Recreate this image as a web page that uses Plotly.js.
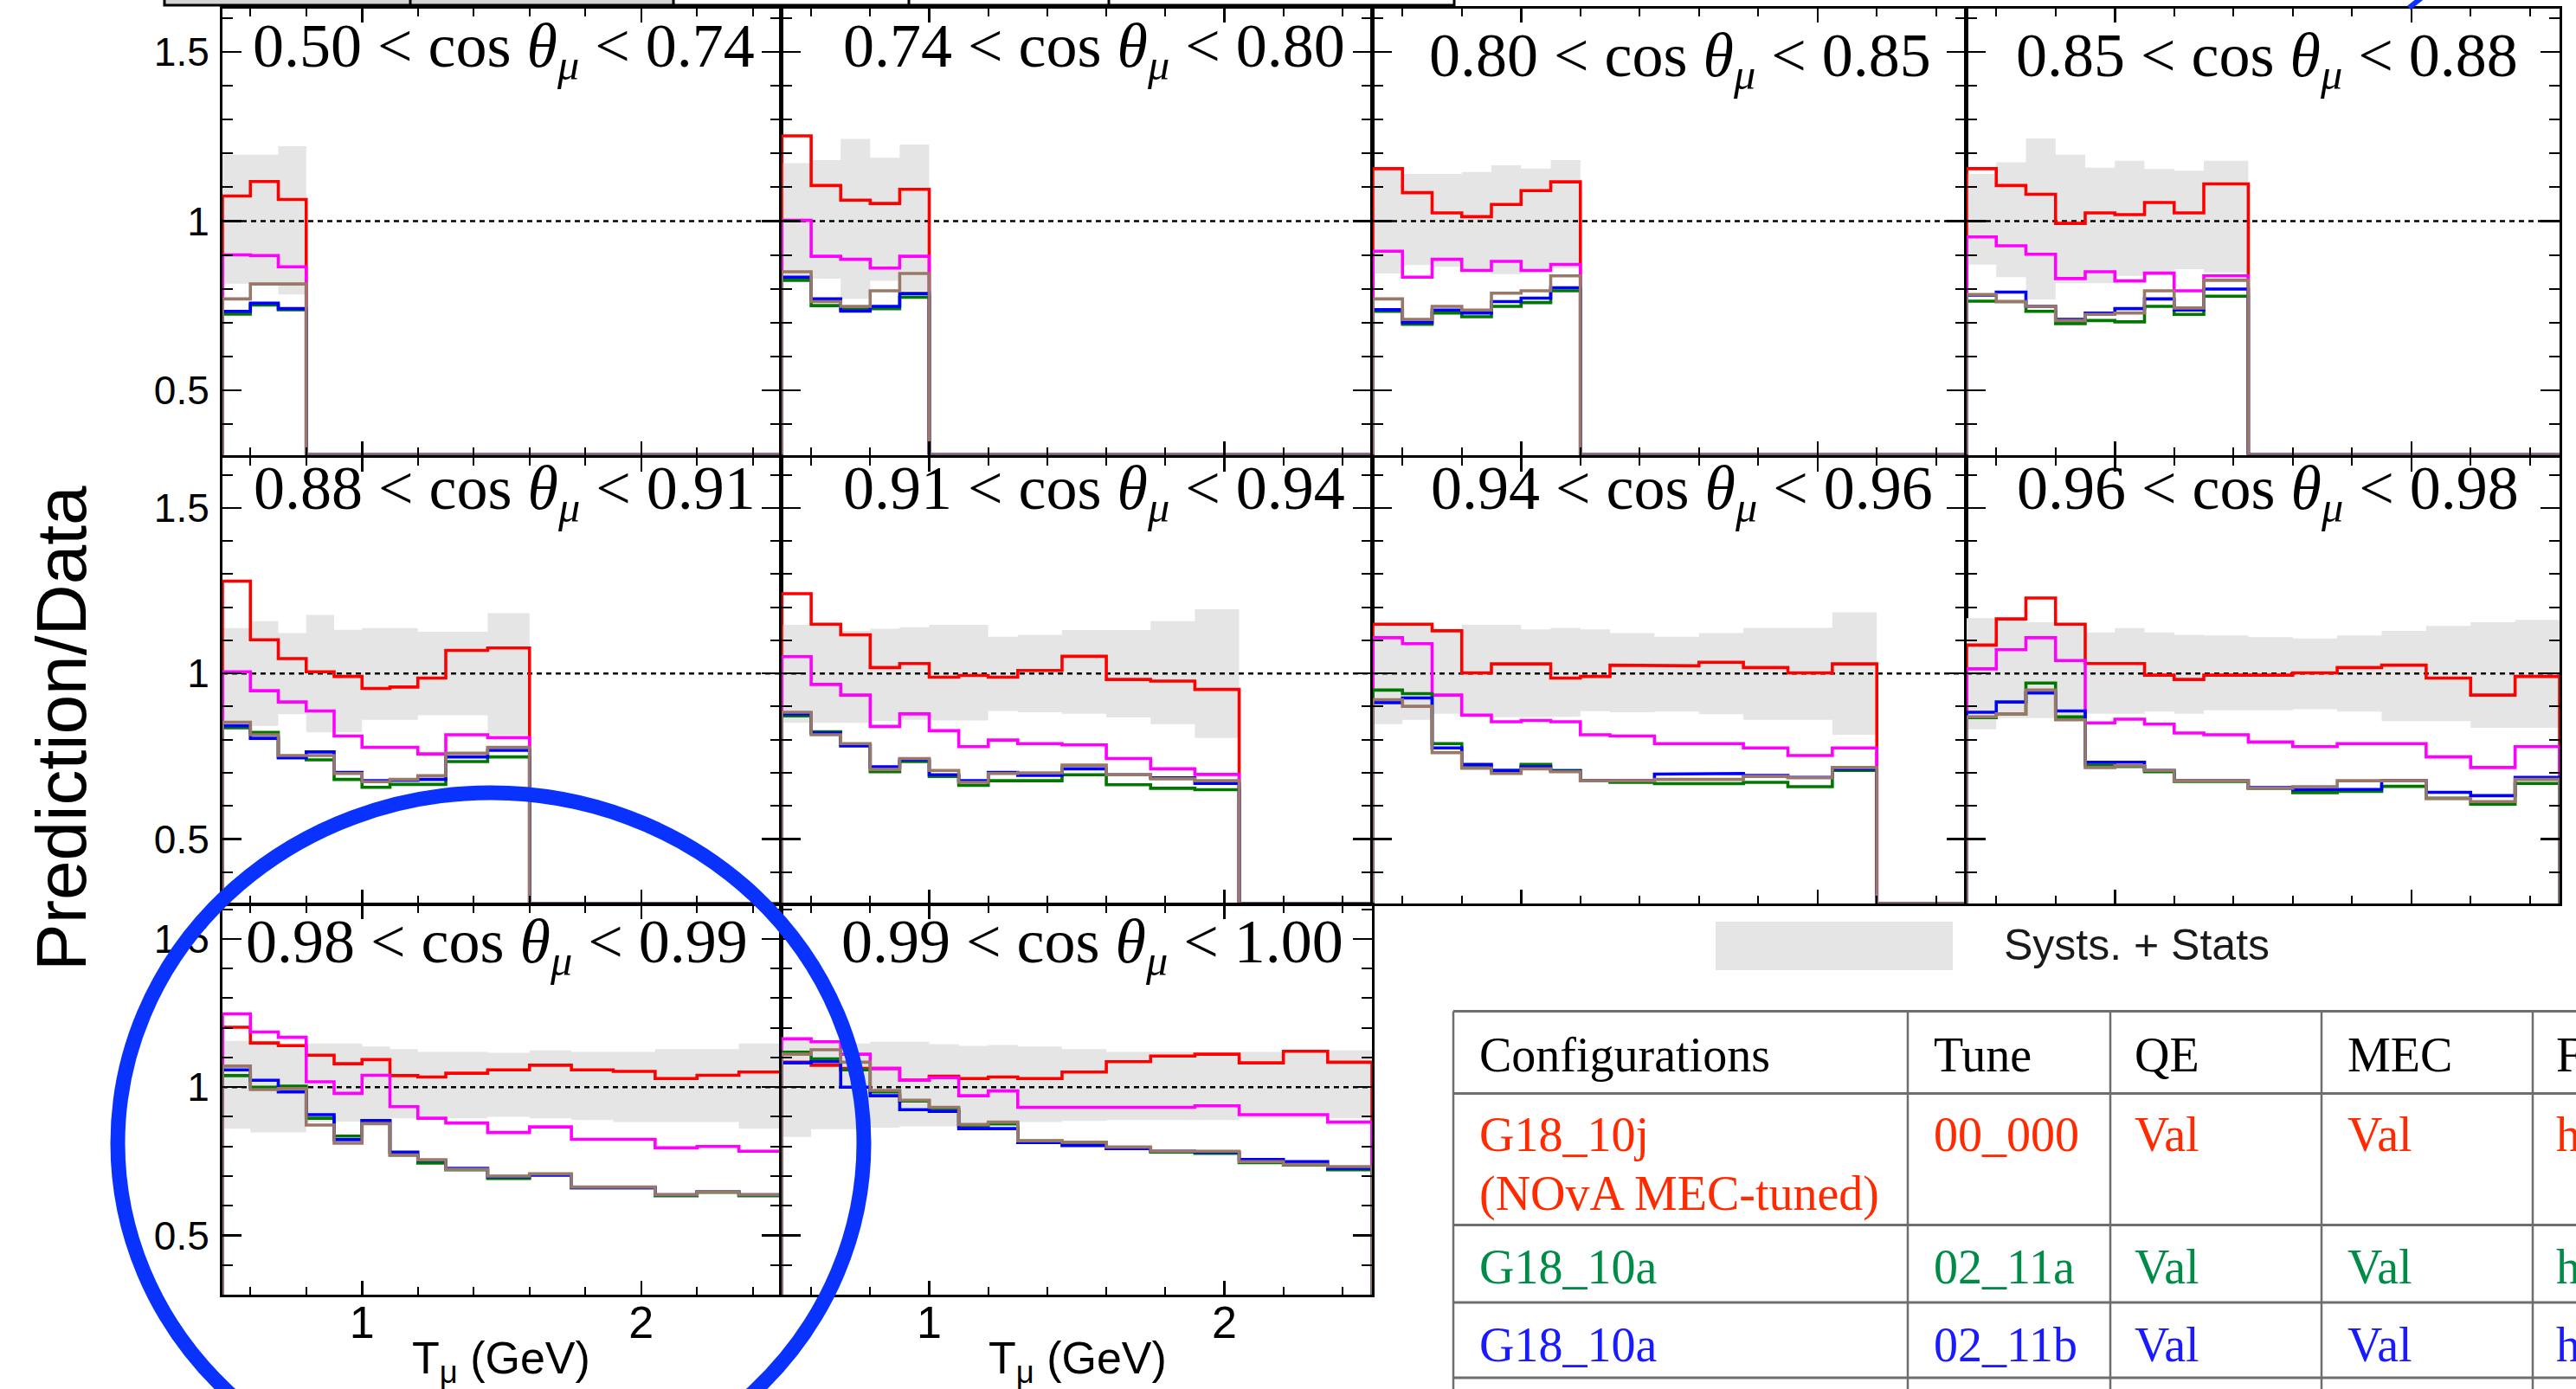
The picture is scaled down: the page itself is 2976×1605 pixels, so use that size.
<!DOCTYPE html>
<html><head><meta charset="utf-8">
<script src="https://cdn.plot.ly/plotly-3.0.1.min.js"></script>
<style>html,body{margin:0;padding:0;background:#fff;} #chart{width:2976px;height:1605px;}</style>
</head><body><div id="chart"></div>
<script>
// ---------------- DATA ----------------
const binEdges = [0.5,0.6,0.7,0.8,0.9,1.0,1.1,1.2,1.3,1.45,1.6,1.75,1.9,2.05,2.2,2.35,2.5];
const cosLow  = ["0.50","0.74","0.80","0.85","0.88","0.91","0.94","0.96","0.98","0.99"];
const cosHigh = ["0.74","0.80","0.85","0.88","0.91","0.94","0.96","0.98","0.99","1.00"];
const seriesNames = ["G18_10j (NOvA MEC-tuned)", "Configuration 4", "G18_10a 02_11a", "G18_10a 02_11b", "Configuration 5"];

const ratioRed = [
  [1.074,1.117,1.064],
  [1.252,1.105,1.062,1.052,1.094],
  [1.155,1.084,1.024,1.013,1.049,1.090,1.116],
  [1.155,1.105,1.079,0.993,1.024,1.019,1.055,1.024,1.110],
  [1.279,1.102,1.045,1.005,0.991,0.955,0.959,0.986,1.070,1.077],
  [1.241,1.149,1.117,1.018,1.030,0.989,0.994,0.989,1.009,1.052,0.982,0.977,0.952],
  [1.149,1.149,1.129,1.002,1.029,1.029,0.986,0.991,1.025,1.023,1.034,1.018,1.002,1.029],
  [1.086,1.165,1.228,1.149,1.030,1.030,0.995,0.982,0.995,0.995,1.002,1.018,1.025,0.986,0.935,0.991],
  [1.202,1.149,1.140,1.108,1.079,1.093,1.039,1.034,1.047,1.058,1.074,1.058,1.053,1.029,1.040,1.051],
  [1.084,1.074,1.063,1.063,1.024,1.037,1.029,1.034,1.029,1.051,1.086,1.105,1.111,1.082,1.121,1.084]
];
const ratioMagenta = [
  [0.900,0.898,0.865],
  [1.002,0.896,0.887,0.861,0.896],
  [0.911,0.834,0.887,0.854,0.881,0.854,0.872],
  [0.953,0.927,0.902,0.830,0.850,0.823,0.846,0.794,0.838],
  [1.005,0.948,0.914,0.887,0.811,0.777,0.777,0.757,0.815,0.806],
  [1.051,0.967,0.935,0.840,0.878,0.827,0.779,0.799,0.788,0.784,0.743,0.712,0.695],
  [1.108,1.090,0.935,0.874,0.854,0.858,0.854,0.815,0.811,0.788,0.788,0.775,0.752,0.775],
  [1.014,1.072,1.108,1.039,0.851,0.862,0.847,0.820,0.815,0.793,0.779,0.788,0.788,0.748,0.716,0.779],
  [1.247,1.186,1.168,1.018,0.979,1.040,0.934,0.895,0.879,0.847,0.866,0.824,0.824,0.795,0.800,0.784],
  [1.163,1.153,1.111,1.063,1.023,1.032,0.971,0.987,0.932,0.932,0.932,0.932,0.937,0.907,0.907,0.882]
];
const ratioGreen = [
  [0.725,0.752,0.738],
  [0.825,0.750,0.740,0.741,0.775],
  [0.733,0.695,0.728,0.717,0.748,0.759,0.794],
  [0.763,0.762,0.733,0.697,0.706,0.702,0.748,0.724,0.778],
  [0.836,0.822,0.748,0.739,0.680,0.656,0.665,0.665,0.734,0.748],
  [0.872,0.824,0.784,0.703,0.734,0.689,0.662,0.676,0.676,0.694,0.664,0.653,0.649],
  [0.950,0.939,0.788,0.718,0.707,0.725,0.707,0.676,0.671,0.667,0.667,0.671,0.658,0.707],
  [0.867,0.878,0.971,0.869,0.723,0.719,0.703,0.674,0.674,0.653,0.640,0.644,0.659,0.623,0.605,0.668],
  [1.039,1.000,1.003,0.895,0.835,0.887,0.771,0.744,0.721,0.692,0.707,0.661,0.661,0.634,0.645,0.634],
  [1.118,1.095,1.058,0.984,0.953,0.926,0.868,0.876,0.819,0.813,0.793,0.781,0.777,0.745,0.737,0.721]
];
const ratioBlue = [
  [0.733,0.757,0.741],
  [0.834,0.770,0.734,0.748,0.786],
  [0.738,0.700,0.737,0.728,0.762,0.772,0.803],
  [0.781,0.790,0.748,0.709,0.728,0.741,0.770,0.737,0.799],
  [0.842,0.804,0.745,0.763,0.701,0.676,0.677,0.680,0.748,0.768],
  [0.878,0.820,0.781,0.718,0.739,0.694,0.676,0.701,0.692,0.712,0.694,0.685,0.668],
  [0.912,0.926,0.775,0.725,0.707,0.718,0.705,0.676,0.676,0.696,0.698,0.692,0.686,0.712],
  [0.883,0.914,0.941,0.887,0.732,0.732,0.707,0.676,0.676,0.655,0.649,0.650,0.676,0.641,0.631,0.686],
  [1.058,1.023,0.984,0.907,0.823,0.887,0.781,0.753,0.726,0.698,0.703,0.661,0.661,0.637,0.647,0.637],
  [1.082,1.086,1.000,0.971,0.924,0.918,0.860,0.860,0.813,0.803,0.793,0.784,0.781,0.756,0.749,0.726]
];
const ratioBrown = [
  [0.770,0.814,0.814],
  [0.850,0.762,0.748,0.794,0.845],
  [0.770,0.709,0.748,0.737,0.787,0.794,0.838],
  [0.783,0.762,0.748,0.706,0.724,0.728,0.794,0.743,0.825],
  [0.853,0.815,0.752,0.752,0.698,0.673,0.680,0.691,0.759,0.777],
  [0.883,0.815,0.788,0.710,0.743,0.707,0.671,0.698,0.700,0.723,0.694,0.682,0.676],
  [0.921,0.901,0.761,0.714,0.698,0.712,0.703,0.676,0.676,0.680,0.680,0.689,0.685,0.716],
  [0.869,0.878,0.950,0.860,0.716,0.721,0.707,0.676,0.676,0.653,0.658,0.676,0.676,0.622,0.613,0.680],
  [1.071,0.992,0.995,0.872,0.811,0.877,0.771,0.755,0.723,0.700,0.707,0.663,0.663,0.637,0.647,0.637],
  [1.111,1.126,1.084,0.989,0.956,0.932,0.874,0.882,0.819,0.814,0.798,0.784,0.784,0.749,0.739,0.732]
];
const bandLow = [
  [0.815,0.815,0.783],
  [0.830,0.830,0.770,0.823,0.794],
  [0.845,0.870,0.865,0.856,0.843,0.847,0.860],
  [0.871,0.834,0.768,0.816,0.816,0.838,0.850,0.858,0.848],
  [0.842,0.842,0.877,0.822,0.822,0.860,0.860,0.874,0.874,0.815],
  [0.851,0.851,0.851,0.856,0.860,0.858,0.858,0.887,0.883,0.878,0.867,0.847,0.805],
  [0.847,0.860,0.878,0.874,0.868,0.868,0.869,0.886,0.883,0.885,0.877,0.860,0.860,0.815],
  [0.831,0.865,0.865,0.865,0.878,0.878,0.885,0.878,0.889,0.889,0.892,0.885,0.856,0.856,0.836,0.836],
  [0.860,0.847,0.847,0.884,0.884,0.884,0.895,0.895,0.895,0.900,0.895,0.889,0.882,0.882,0.882,0.860],
  [0.832,0.858,0.858,0.863,0.868,0.868,0.872,0.872,0.882,0.886,0.889,0.889,0.889,0.895,0.895,0.895]
];
const bandHigh = [
  [1.196,1.196,1.221],
  [1.171,1.180,1.243,1.187,1.226],
  [1.152,1.139,1.139,1.145,1.165,1.155,1.180],
  [1.139,1.174,1.244,1.196,1.158,1.178,1.154,1.149,1.178],
  [1.137,1.158,1.122,1.177,1.132,1.137,1.137,1.126,1.126,1.182],
  [1.147,1.147,1.129,1.135,1.140,1.147,1.147,1.111,1.117,1.131,1.131,1.158,1.194],
  [1.144,1.144,1.135,1.147,1.147,1.133,1.138,1.133,1.122,1.111,1.122,1.138,1.138,1.185],
  [1.167,1.160,1.155,1.150,1.124,1.137,1.124,1.117,1.115,1.110,1.106,1.115,1.129,1.144,1.155,1.162],
  [1.156,1.156,1.147,1.147,1.147,1.137,1.128,1.119,1.119,1.116,1.124,1.119,1.119,1.128,1.128,1.147],
  [1.168,1.158,1.147,1.153,1.153,1.145,1.139,1.142,1.137,1.128,1.119,1.119,1.119,1.119,1.124,1.124]
];
const tableHeader = ["Configurations","Tune","QE","MEC","FSI"];
const tableRows = [
  ["G18_10j<br>(NOvA MEC-tuned)","00_000","Val","Val","hA"],
  ["G18_10a","02_11a","Val","Val","hA"],
  ["G18_10a","02_11b","Val","Val","hA"]
];

// ---------------- LAYOUT CONSTANTS (pixels) ----------------
const W = 2976, H = 1605;
const colLeft  = [257, 903, 1586, 2272];
const colRight = [902, 1585, 2271, 2957];
const rowTop    = [10, 528.5, 1045.5];
const rowBottom = [525.5, 1044, 1496];
const rowRange  = [[0.309,1.628],[0.305,1.653],[0.300,1.615]];
const titleCX = [582,1264,1941,2619, 583,1264,1943,2620, 574,1262];
const titleCY = [58,58,69,69, 569,569,569,569, 1093,1093];
const seriesColors = ["#ff0000","#ff00ff","#007800","#0000ff","#9a7868"];
const fx = px => px / W;
const fy = py => 1 - py / H;

function stepPath(vals, base) {
  const xs = [binEdges[0]], ys = [base];
  for (let i = 0; i < binEdges.length - 1; i++) {
    const v = i < vals.length ? vals[i] : base;
    xs.push(binEdges[i], binEdges[i + 1]);
    ys.push(v, v);
  }
  xs.push(binEdges[binEdges.length - 1]); ys.push(base);
  return {xs, ys};
}
function bandPath(lo, hi) {
  const xs = [], ys = [];
  for (let i = 0; i < hi.length; i++) { xs.push(binEdges[i], binEdges[i + 1]); ys.push(hi[i], hi[i]); }
  for (let i = lo.length - 1; i >= 0; i--) { xs.push(binEdges[i + 1], binEdges[i]); ys.push(lo[i], lo[i]); }
  xs.push(xs[0]); ys.push(ys[0]);
  return {xs, ys};
}

const traces = [];
const layout = {
  width: W, height: H, margin: {l:0, r:0, t:0, b:0},
  paper_bgcolor: '#fff', plot_bgcolor: '#fff', showlegend: false,
  annotations: [], shapes: []
};
const allSeries = [ratioRed, ratioMagenta, ratioGreen, ratioBlue, ratioBrown];

for (let p = 0; p < 10; p++) {
  const row = p < 4 ? 0 : (p < 8 ? 1 : 2);
  const col = p < 8 ? p % 4 : p - 8;
  const s = p === 0 ? '' : String(p + 1);
  const xa = 'x' + s, ya = 'y' + s;
  const base = rowRange[row][0];

  const b = bandPath(bandLow[p], bandHigh[p]);
  traces.push({x: b.xs, y: b.ys, xaxis: xa, yaxis: ya, mode: 'lines', fill: 'toself',
    fillcolor: '#e5e5e5', line: {width: 0, color: 'rgba(0,0,0,0)'}, hoverinfo: 'skip', name: 'Systs. + Stats'});
  traces.push({x: [binEdges[0], binEdges[binEdges.length - 1]], y: [1, 1], xaxis: xa, yaxis: ya, mode: 'lines',
    line: {color: '#000', width: 2.5, dash: '6px,5px'}, hoverinfo: 'skip'});
  allSeries.forEach((ser, k) => {
    const st = stepPath(ser[p], base);
    traces.push({x: st.xs, y: st.ys, xaxis: xa, yaxis: ya, mode: 'lines', name: seriesNames[k],
      line: {color: seriesColors[k], width: 3.6}});
  });

  layout['xaxis' + s] = {
    domain: [fx(colLeft[col]), fx(colRight[col])], anchor: ya, range: [0.5, 2.5],
    showline: true, linecolor: '#000', linewidth: 3, mirror: 'ticks',
    ticks: 'inside', ticklen: 16, tickwidth: 2.5, tickcolor: '#000', tick0: 0, dtick: 1,
    minor: {ticks: 'inside', ticklen: 9, tickwidth: 2, tickcolor: '#000', tick0: 0, dtick: 0.2, showgrid: false},
    showgrid: false, zeroline: false, showticklabels: row === 2, ticklabelstandoff: -15,
    tickfont: {family: 'Liberation Sans, Arial, sans-serif', size: 52, color: '#000'}
  };
  layout['yaxis' + s] = {
    domain: [fy(rowBottom[row]), fy(rowTop[row])], anchor: xa, range: rowRange[row],
    showline: true, linecolor: '#000', linewidth: 3, mirror: 'ticks',
    ticks: 'inside', ticklen: 22, tickwidth: 2.5, tickcolor: '#000', tick0: 0, dtick: 0.5,
    minor: {ticks: 'inside', ticklen: 12, tickwidth: 2, tickcolor: '#000', tick0: 0, dtick: 0.1, showgrid: false},
    showgrid: false, zeroline: false, showticklabels: col === 0, ticklabelstandoff: 3,
    tickfont: {family: 'Liberation Sans, Arial, sans-serif', size: 46, color: '#000'}
  };

  layout.annotations.push({xref: 'paper', yref: 'paper', x: fx(titleCX[p]), y: fy(titleCY[p]),
    xanchor: 'center', yanchor: 'middle', showarrow: false,
    text: cosLow[p] + ' &lt; cos <i>θ</i><sub><i>μ</i></sub> &lt; ' + cosHigh[p],
    font: {family: 'Liberation Serif, Times New Roman, serif', size: 72, color: '#000'}});
}

// axis titles
layout.annotations.push({xref: 'paper', yref: 'paper', x: fx(70), y: fy(842), textangle: -90,
  xanchor: 'center', yanchor: 'middle', showarrow: false, text: 'Prediction/Data',
  font: {family: 'Liberation Sans, Arial, sans-serif', size: 82, color: '#000'}});
[579, 1245].forEach(cx => {
  layout.annotations.push({xref: 'paper', yref: 'paper', x: fx(cx), y: fy(1573),
    xanchor: 'center', yanchor: 'middle', showarrow: false, text: 'T<sub>μ</sub> (GeV)',
    font: {family: 'Liberation Sans, Arial, sans-serif', size: 52, color: '#000'}});
});

// legend box
layout.shapes.push({type: 'rect', xref: 'paper', yref: 'paper', x0: fx(1982), x1: fx(2256), y0: fy(1121), y1: fy(1065),
  fillcolor: '#e5e5e5', line: {width: 0}});
layout.annotations.push({xref: 'paper', yref: 'paper', x: fx(2313), y: fy(1092), xanchor: 'left', yanchor: 'middle',
  showarrow: false, text: 'Systs. + Stats', font: {family: 'Liberation Sans, Arial, sans-serif', size: 50, color: '#1a1a1a'}});

// table
const tblX = [1679, 2204, 2438, 2682, 2926];
const tblY = [1168.6, 1263.4, 1415.5, 1504.9, 1592];
tblY.forEach(y => layout.shapes.push({type: 'line', xref: 'paper', yref: 'paper', x0: fx(1679), x1: fx(2990), y0: fy(y), y1: fy(y),
  line: {color: '#6e6e6e', width: 3}}));
tblX.forEach(x => layout.shapes.push({type: 'line', xref: 'paper', yref: 'paper', x0: fx(x), x1: fx(x), y0: fy(1168.6), y1: fy(1620),
  line: {color: '#6e6e6e', width: 2.5}}));
const cellX = [1707, 2232, 2464, 2710, 2951];
const rowColors = ['#ff2a00', '#008c46', '#1a1aff'];
tableHeader.forEach((t, i) => layout.annotations.push({xref: 'paper', yref: 'paper', x: fx(cellX[i]), y: fy(1219),
  xanchor: 'left', yanchor: 'middle', showarrow: false, text: t,
  font: {family: 'Liberation Serif, Times New Roman, serif', size: 56, color: '#000'}}));
const rowCY = [1311, 1464, 1554];
tableRows.forEach((r, j) => r.forEach((t, i) => {
  const parts = t.split('<br>');
  parts.forEach((pt, m) => layout.annotations.push({xref: 'paper', yref: 'paper', x: fx(cellX[i]), y: fy(rowCY[j] + m * 68),
    xanchor: 'left', yanchor: 'middle', showarrow: false, text: pt,
    font: {family: 'Liberation Serif, Times New Roman, serif', size: 56, color: rowColors[j]}}));
}));

// cropped slide table strip at the very top
layout.shapes.push({type: 'rect', xref: 'paper', yref: 'paper', x0: fx(190), x1: fx(778), y0: fy(6), y1: fy(-20),
  fillcolor: '#d4d4d4', line: {width: 0}});
layout.shapes.push({type: 'rect', xref: 'paper', yref: 'paper', x0: fx(190), x1: fx(1680), y0: fy(6), y1: fy(-20),
  fillcolor: 'rgba(0,0,0,0)', line: {color: '#000', width: 3}});
[474, 778, 1050, 1281].forEach(x => layout.shapes.push({type: 'line', xref: 'paper', yref: 'paper',
  x0: fx(x), x1: fx(x), y0: fy(6), y1: fy(-5), line: {color: '#000', width: 3}}));
layout.shapes.push({type: 'line', xref: 'paper', yref: 'paper', x0: fx(2797), x1: fx(2783), y0: fy(-2), y1: fy(9),
  line: {color: '#1030ff', width: 6}});

// blue highlight ellipse
layout.shapes.push({type: 'circle', xref: 'paper', yref: 'paper', x0: fx(136), x1: fx(998), y0: fy(1726), y1: fy(916),
  line: {color: '#0a32ff', width: 17}, fillcolor: 'rgba(0,0,0,0)'});

Plotly.newPlot('chart', traces, layout, {staticPlot: true});
</script>
</body></html>
